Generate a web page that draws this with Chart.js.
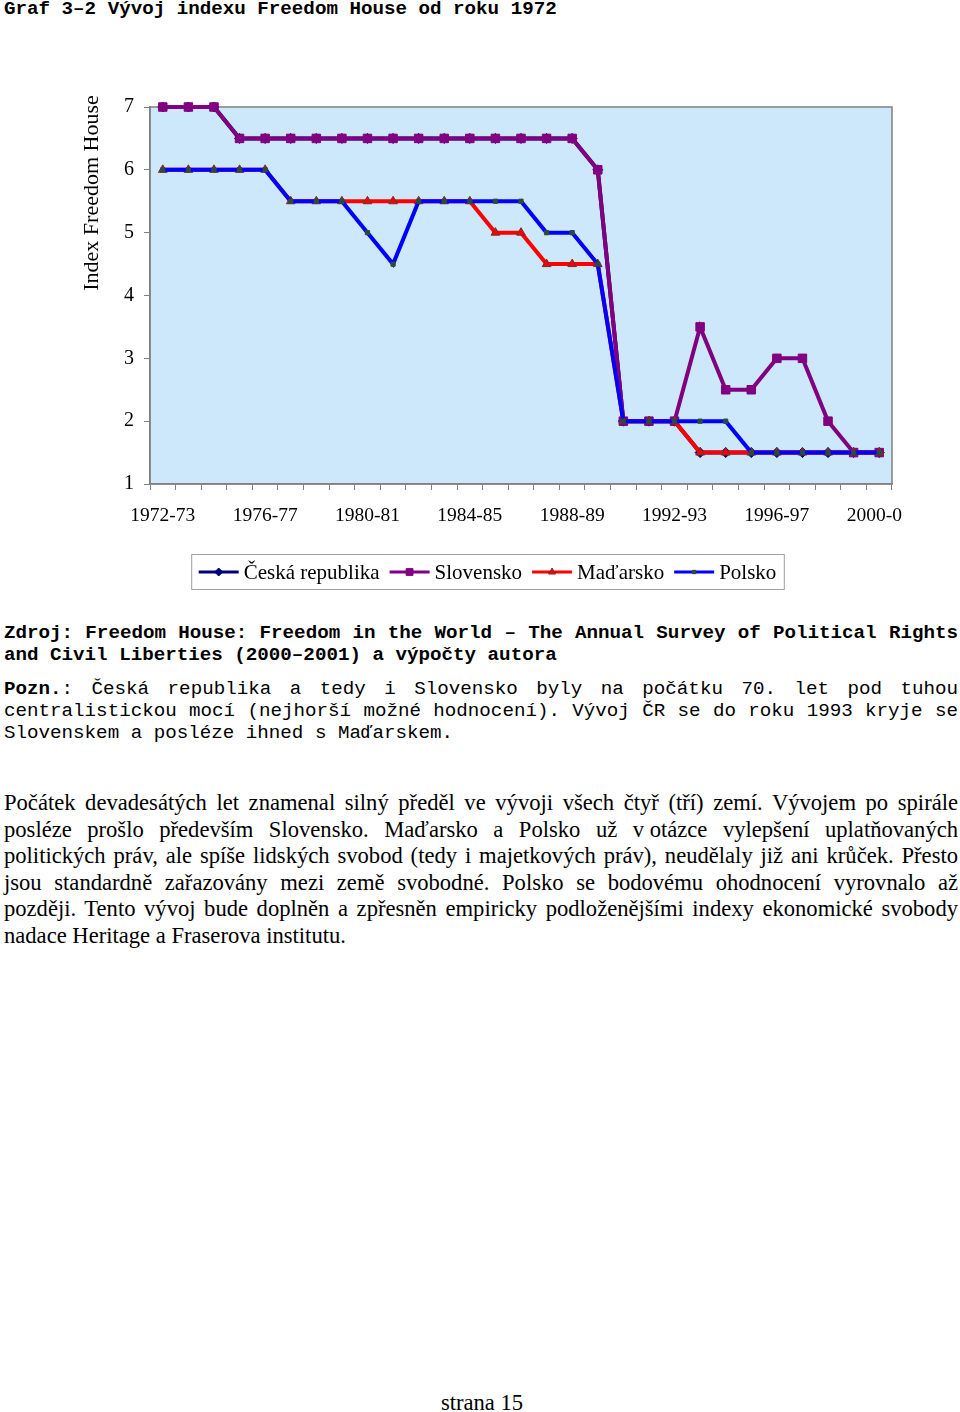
<!DOCTYPE html>
<html lang="cs">
<head>
<meta charset="utf-8">
<title>Graf 3-2 Vývoj indexu Freedom House od roku 1972</title>
<script src="https://cdn.jsdelivr.net/npm/chart.js@4.4.1/dist/chart.umd.min.js"></script>
<style>
  html, body { margin: 0; padding: 0; background: #fff; }
  body { width: 960px; height: 1412px; position: relative; overflow: hidden; color: #000; }
  .mono { font-family: "Liberation Mono", "Courier New", monospace; font-size: 19.2px; line-height: 22px; }
  .serif { font-family: "Liberation Serif", "Times New Roman", serif; font-size: 22.6px; line-height: 26.6px; }
  .block { position: absolute; left: 4px; width: 954px; margin: 0; }
  .block div { white-space: nowrap; text-align: justify; text-align-last: justify; }
  .block div.last { text-align-last: left; }
  .keep { display: inline-block; }
  #title { top: -2px; font-weight: bold; white-space: nowrap; }
  #zdroj { top: 622px; font-weight: bold; }
  #pozn { top: 678px; }
  #text { top: 790px; }
  #page { position: absolute; top: 1390px; left: 400px; width: 164px; text-align: center; }
  #chartClip { position: absolute; left: 0; top: 40px; width: 902px; height: 560px; overflow: hidden; }
  #chartBox { position: relative; width: 960px; height: 560px; }
</style>
</head>
<body>
<div id="title" class="mono block">Graf 3–2 Vývoj indexu Freedom House od roku 1972</div>

<div id="chartClip"><div id="chartBox"><canvas id="chart"></canvas></div></div>

<div id="zdroj" class="mono block">
  <div>Zdroj: Freedom House: Freedom in the World – The Annual Survey of Political Rights</div>
  <div class="last">and Civil Liberties (2000–2001) a výpočty autora</div>
</div>

<div id="pozn" class="mono block">
  <div><b>Pozn.</b>: Česká republika a tedy i Slovensko byly na počátku 70. let pod tuhou</div>
  <div>centralistickou mocí (nejhorší možné hodnocení). Vývoj ČR se do roku 1993 kryje se</div>
  <div class="last">Slovenskem a posléze ihned s Maďarskem.</div>
</div>

<div id="text" class="serif block">
  <div>Počátek devadesátých let znamenal silný předěl ve vývoji všech čtyř (tří) zemí. Vývojem po spirále</div>
  <div>posléze prošlo především Slovensko. Maďarsko a Polsko už <span class="keep">v&nbsp;otázce</span> vylepšení uplatňovaných</div>
  <div>politických práv, ale spíše lidských svobod (tedy i majetkových práv), neudělaly již ani krůček. Přesto</div>
  <div>jsou standardně zařazovány mezi země svobodné. Polsko se bodovému ohodnocení vyrovnalo až</div>
  <div>později. Tento vývoj bude doplněn a zpřesněn empiricky podloženějšími indexy ekonomické svobody</div>
  <div class="last">nadace Heritage a Fraserova institutu.</div>
</div>

<div id="page" class="serif">strana 15</div>

<script>
// data
const categories = [
    '1972-73', '1973-74', '1974-75', '1975-76', '1976-77', '1977-78', '1978-79', '1979-80',
    '1980-81', '1981-82', '1982-83', '1983-84', '1984-85', '1985-86', '1986-87', '1987-88',
    '1988-89', '1989-90', '1990-91', '1991-92', '1992-93', '1993-94', '1994-95', '1995-96',
    '1996-97', '1997-98', '1998-99', '1999-00', '2000-01'
];
const ceskaRepublika = [7, 7, 7, 6.5, 6.5, 6.5, 6.5, 6.5, 6.5, 6.5, 6.5, 6.5, 6.5, 6.5, 6.5, 6.5,
    6.5, 6, 2, 2, 2, 1.5, 1.5, 1.5, 1.5, 1.5, 1.5, 1.5, 1.5];
const slovensko = [7, 7, 7, 6.5, 6.5, 6.5, 6.5, 6.5, 6.5, 6.5, 6.5, 6.5, 6.5, 6.5, 6.5, 6.5,
    6.5, 6, 2, 2, 2, 3.5, 2.5, 2.5, 3, 3, 2, 1.5, 1.5];
const madarsko = [6, 6, 6, 6, 6, 5.5, 5.5, 5.5, 5.5, 5.5, 5.5, 5.5, 5.5, 5, 5, 4.5,
    4.5, 4.5, 2, 2, 2, 1.5, 1.5, 1.5, 1.5, 1.5, 1.5, 1.5, 1.5];
const polsko = [6, 6, 6, 6, 6, 5.5, 5.5, 5.5, 5, 4.5, 5.5, 5.5, 5.5, 5.5, 5.5, 5,
    5, 4.5, 2, 2, 2, 2, 2, 1.5, 1.5, 1.5, 1.5, 1.5, 1.5];
const yMin = 1;
const yMax = 7;
const labelEvery = 4;

const serif = '"Liberation Serif", "Times New Roman", serif';

function drawMarker(ctx, style, x, y, r, fill, stroke) {
    ctx.beginPath();
    if (style === 'rect') {
        const s = r * Math.SQRT1_2;
        ctx.rect(x - s, y - s, 2 * s, 2 * s);
    } else if (style === 'rectRot') {
        ctx.moveTo(x, y - r);
        ctx.lineTo(x + r, y);
        ctx.lineTo(x, y + r);
        ctx.lineTo(x - r, y);
        ctx.closePath();
    } else if (style === 'triangle') {
        ctx.moveTo(x, y - r);
        ctx.lineTo(x + 0.866 * r, y + 0.5 * r);
        ctx.lineTo(x - 0.866 * r, y + 0.5 * r);
        ctx.closePath();
    }
    ctx.fillStyle = fill;
    ctx.fill();
    if (stroke) {
        ctx.strokeStyle = stroke;
        ctx.lineWidth = 1;
        ctx.stroke();
    }
}

// light blue plot area + grey frame
const plotArea = {
    id: 'plotArea',
    beforeDraw(chart) {
        const {ctx, chartArea: a} = chart;
        ctx.save();
        ctx.fillStyle = '#cce8fa';
        ctx.fillRect(a.left, a.top, a.right - a.left, a.bottom - a.top);
        ctx.restore();
    },
    beforeDatasetsDraw(chart) {
        const {ctx, chartArea: a} = chart;
        ctx.save();
        ctx.strokeStyle = '#808080';
        ctx.lineWidth = 1.5;
        ctx.strokeRect(a.left, a.top, a.right - a.left, a.bottom - a.top);
        ctx.restore();
    }
};

// axis title sits higher than the axis middle, as in the original
const yTitle = {
    id: 'yTitle',
    afterDraw(chart) {
        const {ctx, chartArea: a} = chart;
        ctx.save();
        ctx.translate(92, a.top + 86);
        ctx.rotate(-Math.PI / 2);
        ctx.font = '22px ' + serif;
        ctx.fillStyle = '#000';
        ctx.textAlign = 'center';
        ctx.textBaseline = 'middle';
        ctx.fillText('Index Freedom House', 0, 0);
        ctx.restore();
    }
};

// excel-like legend: line sample with marker, boxed
const legendBox = {
    id: 'legendBox',
    afterDraw(chart) {
        const {ctx, chartArea: a} = chart;
        ctx.save();
        ctx.font = '21px ' + serif;
        const sample = 40, gap = 5, space = 10, padL = 7, padR = 8, h = 35;
        const items = chart.data.datasets.map(ds => ({ds, w: sample + gap + ctx.measureText(ds.label).width}));
        const total = items.reduce((s, it) => s + it.w, 0) + space * (items.length - 1) + padL + padR;
        const cx = chart.width / 2 + 8;
        const cy = a.bottom + 88;
        let x = cx - total / 2;
        ctx.fillStyle = '#fff';
        ctx.fillRect(x, cy - h / 2, total, h);
        ctx.strokeStyle = '#a0a0a0';
        ctx.lineWidth = 1;
        ctx.strokeRect(x, cy - h / 2, total, h);
        x += padL;
        items.forEach(it => {
            const ds = it.ds;
            ctx.strokeStyle = ds.borderColor;
            ctx.lineWidth = 3;
            ctx.beginPath();
            ctx.moveTo(x, cy);
            ctx.lineTo(x + sample, cy);
            ctx.stroke();
            drawMarker(ctx, ds.pointStyle, x + sample / 2, cy, ds.pointRadius * 0.8,
                ds.pointBackgroundColor, ds.pointBorderColor);
            ctx.fillStyle = '#000';
            ctx.textAlign = 'left';
            ctx.textBaseline = 'middle';
            ctx.fillText(ds.label, x + sample + gap, cy + 1);
            x += it.w + space;
        });
        ctx.restore();
    }
};

const series = (label, data, color, style, radius, markerColor, markerBorder, order) => ({
    label: label,
    data: data,
    borderColor: color,
    borderWidth: 4,
    pointStyle: style,
    pointRadius: radius,
    pointBackgroundColor: markerColor,
    pointBorderColor: markerBorder,
    pointBorderWidth: 1,
    tension: 0,
    clip: false,
    order: order
});

new Chart(document.getElementById('chart'), {
    type: 'line',
    data: {
        labels: categories,
        datasets: [
            series('Česká republika', ceskaRepublika, '#000080', 'rectRot', 5, '#000080', '#000080', 4),
            series('Slovensko', slovensko, '#800080', 'rect', 6, '#800080', '#800080', 3),
            series('Maďarsko', madarsko, '#ff0000', 'triangle', 5, '#ff0000', '#703030', 2),
            series('Polsko', polsko, '#0000ff', 'rect', 3, '#2f4a40', '#2f4a40', 1)
        ]
    },
    options: {
        responsive: true,
        maintainAspectRatio: false,
        animation: false,
        events: [],
        layout: {padding: {top: 67, right: 68, bottom: 56, left: 0}},
        plugins: {
            legend: {display: false},
            tooltip: {enabled: false},
            title: {display: false}
        },
        scales: {
            x: {
                type: 'category',
                offset: true,
                afterFit: (scale) => { scale.height = 60; },
                grid: {display: true, offset: true, drawOnChartArea: false, drawTicks: true, tickLength: 6, color: '#808080'},
                border: {display: true, color: '#808080', width: 1.5},
                ticks: {
                    autoSkip: false,
                    maxRotation: 0,
                    minRotation: 0,
                    padding: 14,
                    color: '#000',
                    font: {family: serif, size: 19.5},
                    callback: function (value, index) {
                        return index % labelEvery === 0 ? this.getLabelForValue(value) : '';
                    }
                }
            },
            y: {
                min: yMin,
                max: yMax,
                afterFit: (scale) => { scale.width = 150; },
                grid: {display: true, drawOnChartArea: false, drawTicks: true, tickLength: 6, color: '#808080'},
                border: {display: true, color: '#808080', width: 1.5},
                ticks: {
                    stepSize: 1,
                    padding: 10,
                    color: '#000',
                    font: {family: serif, size: 20}
                }
            }
        }
    },
    plugins: [plotArea, yTitle, legendBox]
});
</script>
</body>
</html>
